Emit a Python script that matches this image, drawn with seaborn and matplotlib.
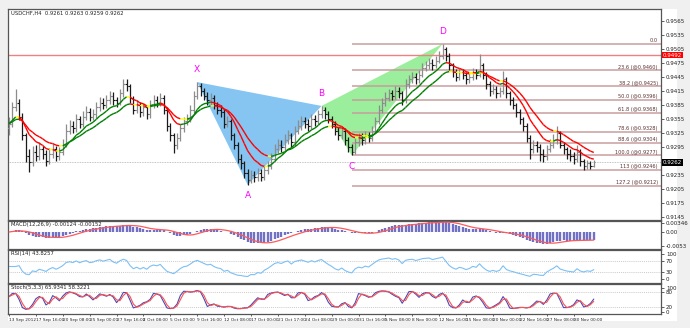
import numpy as np
import pandas as pd
import matplotlib
matplotlib.use("Agg")
import matplotlib.pyplot as plt
import seaborn as sns
from matplotlib.collections import LineCollection
from matplotlib.patches import Polygon, Rectangle
import matplotlib.transforms as mtrans

# ---------------- data (8h-compressed bars) ----------------
first_open = 0.9335
closes = [
    .9345, .9380, .9390, .9360, .9320, .9275, .9262, .9285, .9275, .9290,
    .9280, .9265, .9280, .9290, .9275, .9285, .9300, .9330, .9340, .9335,
    .9355, .9345, .9360, .9370, .9360, .9365, .9380, .9390, .9385, .9395,
    .9405, .9395, .9390, .9410, .9430, .9425, .9400, .9375, .9385, .9370,
    .9380, .9365, .9385, .9395, .9390, .9400, .9375, .9340, .9320, .9300,
    .9315, .9335, .9350, .9355, .9375, .9405, .9425, .9415, .9405, .9395,
    .9400, .9385, .9375, .9370, .9345, .9350, .9320, .9300, .9270, .9260,
    .9240, .9225, .9235, .9230, .9240, .9230, .9245, .9255, .9270, .9290,
    .9300, .9295, .9310, .9320, .9305, .9330, .9340, .9350, .9345, .9340,
    .9355, .9350, .9365, .9375, .9365, .9355, .9345, .9330, .9320, .9330,
    .9310, .9295, .9285, .9305, .9315, .9310, .9320, .9315, .9330, .9350,
    .9375, .9390, .9400, .9410, .9405, .9415, .9410, .9395, .9430, .9440,
    .9445, .9440, .9450, .9465, .9470, .9475, .9470, .9480, .9490, .9505,
    .9490, .9470, .9455, .9445, .9455, .9450, .9440, .9445, .9455, .9450,
    .9470, .9450, .9430, .9415, .9420, .9410, .9415, .9440, .9410, .9395,
    .9385, .9370, .9355, .9340, .9315, .9290, .9300, .9295, .9280, .9275,
    .9290, .9300, .9310, .9325, .9300, .9290, .9280, .9275, .9270, .9285,
    .9265, .9255, .9260, .9255, .9262]
highs = [
    .9360, .9392, .9420, .9398, .9368, .9326, .9290, .9298, .9300, .9305,
    .9298, .9288, .9292, .9302, .9298, .9296, .9312, .9345, .9352, .9350,
    .9366, .9362, .9372, .9382, .9378, .9376, .9392, .9402, .9400, .9406,
    .9415, .9412, .9402, .9420, .9440, .9440, .9430, .9405, .9396, .9392,
    .9390, .9386, .9396, .9406, .9404, .9410, .9406, .9380, .9346, .9326,
    .9324, .9345, .9360, .9366, .9386, .9415, .9434, .9432, .9422, .9412,
    .9410, .9406, .9392, .9384, .9376, .9362, .9356, .9326, .9305, .9280,
    .9266, .9248, .9246, .9244, .9250, .9248, .9256, .9266, .9282, .9302,
    .9312, .9310, .9322, .9332, .9326, .9340, .9352, .9362, .9360, .9354,
    .9366, .9364, .9374, .9383, .9380, .9372, .9362, .9350, .9338, .9340,
    .9336, .9316, .9302, .9314, .9326, .9324, .9330, .9328, .9340, .9360,
    .9386, .9400, .9412, .9420, .9418, .9425, .9424, .9416, .9440, .9450,
    .9456, .9454, .9460, .9474, .9480, .9485, .9484, .9490, .9500, .9516,
    .9510, .9496, .9476, .9462, .9464, .9462, .9456, .9454, .9464, .9462,
    .9494, .9476, .9456, .9436, .9430, .9426, .9424, .9458, .9446, .9416,
    .9402, .9390, .9376, .9360, .9346, .9320, .9310, .9308, .9302, .9290,
    .9300, .9312, .9322, .9340, .9330, .9306, .9296, .9290, .9284, .9300,
    .9290, .9270, .9268, .9266, .9268]
lows = [
    .9320, .9338, .9372, .9352, .9310, .9262, .9242, .9255, .9265, .9268,
    .9270, .9255, .9258, .9272, .9266, .9268, .9278, .9295, .9322, .9325,
    .9328, .9336, .9338, .9352, .9350, .9352, .9358, .9372, .9376, .9378,
    .9388, .9386, .9380, .9384, .9402, .9414, .9390, .9366, .9368, .9360,
    .9362, .9355, .9358, .9378, .9380, .9382, .9366, .9330, .9308, .9282,
    .9290, .9308, .9328, .9342, .9348, .9368, .9398, .9405, .9396, .9386,
    .9386, .9376, .9366, .9360, .9336, .9338, .9310, .9290, .9260, .9248,
    .9228, .9214, .9218, .9220, .9222, .9222, .9224, .9238, .9248, .9264,
    .9282, .9284, .9288, .9302, .9296, .9298, .9322, .9332, .9336, .9330,
    .9334, .9340, .9344, .9358, .9355, .9346, .9336, .9320, .9310, .9312,
    .9300, .9285, .9277, .9280, .9298, .9300, .9302, .9305, .9308, .9324,
    .9344, .9368, .9382, .9394, .9396, .9398, .9400, .9385, .9390, .9422,
    .9432, .9430, .9432, .9444, .9458, .9462, .9460, .9464, .9474, .9484,
    .9480, .9460, .9445, .9436, .9438, .9440, .9430, .9432, .9438, .9440,
    .9445, .9440, .9420, .9405, .9408, .9400, .9402, .9408, .9400, .9386,
    .9376, .9360, .9345, .9330, .9305, .9270, .9282, .9284, .9266, .9262,
    .9268, .9284, .9292, .9302, .9292, .9280, .9270, .9264, .9258, .9262,
    .9255, .9246, .9248, .9248, .9252]

time_labels = ["13 Sep 2012", "17 Sep 16:00", "20 Sep 08:00", "25 Sep 00:00",
               "27 Sep 16:00", "2 Oct 08:00", "5 Oct 00:00", "9 Oct 16:00",
               "12 Oct 08:00", "17 Oct 00:00", "21 Oct 17:00", "24 Oct 08:00",
               "29 Oct 00:00", "31 Oct 16:00", "5 Nov 08:00", "8 Nov 00:00",
               "12 Nov 16:00", "15 Nov 08:00", "20 Nov 00:00", "22 Nov 16:00",
               "27 Nov 08:00", "30 Nov 00:00"]

pattern_names = ["X", "A", "B", "C", "D"]
pattern_bar = [56, 71, 93, 102, 129]
pattern_price = [0.9434, 0.9214, 0.9383, 0.9277, 0.9516]
fib_levels = [0.0, 23.6, 38.2, 50.0, 61.8, 78.6, 88.6, 100.0, 113.0, 127.2]
hline_price = 0.9492
last_price = 0.9262
price_ticks = [0.9565, 0.9535, 0.9505, 0.9475, 0.9445, 0.9415, 0.9385, 0.9355,
               0.9325, 0.9295, 0.9235, 0.9205, 0.9175, 0.9145]
macd_ticks = [0.00346, 0.0, -0.0053]
macd_tick_labels = ["0.00346", "0.00", "-0.0053"]
rsi_ticks = [100, 70, 30, 0]
stoch_ticks = [100, 80, 20, 0]

title_main = "USDCHF,H4  0.9261 0.9263 0.9259 0.9262"
title_macd = "MACD(12,26,9) -0.00124 -0.00152"
title_rsi = "RSI(14) 43.8257"
title_stoch = "Stoch(5,3,3) 65.9341 58.3221"

# ---------------- derived series ----------------
N = len(closes)
x = np.arange(N)
c = pd.Series(closes)
h = pd.Series(highs)
l = pd.Series(lows)
opens = np.r_[first_open, np.array(closes[:-1])]

ma_fast = c.ewm(span=9, adjust=False).mean().values
ma_slow = c.ewm(span=16, adjust=False).mean().values

macd = (c.ewm(span=10, adjust=False).mean() - c.ewm(span=24, adjust=False).mean())
signal = macd.rolling(6, min_periods=1).mean()

delta = c.diff().fillna(0)
up = delta.clip(lower=0).ewm(alpha=1 / 7, adjust=False).mean()
dn = (-delta.clip(upper=0)).ewm(alpha=1 / 7, adjust=False).mean()
rsi = (100 - 100 / (1 + up / dn.replace(0, np.nan))).fillna(50)

ll = l.rolling(3, min_periods=1).min()
hh = h.rolling(3, min_periods=1).max()
k = 100 * (c - ll).rolling(2, min_periods=1).sum() / (hh - ll).rolling(2, min_periods=1).sum()
d = k.rolling(2, min_periods=1).mean()

# ---------------- figure ----------------
sns.set_theme(style="white")
plt.rcParams["font.family"] = ["DejaVu Sans"]
W, H = 690, 328
fig = plt.figure(figsize=(W / 100, H / 100), dpi=100, facecolor="#f0f0f0")
fig.patches.append(Rectangle((8 / W, 1 - 321 / H), (677 - 8) / W, (321 - 9) / H,
                             transform=fig.transFigure, facecolor="white",
                             edgecolor="none", zorder=-10))


def px_axes(top, bottom):
    return fig.add_axes([8 / W, 1 - bottom / H, (661 - 8) / W, (bottom - top) / H])


ax = px_axes(9, 220)
ax_m = px_axes(221, 249)
ax_r = px_axes(250, 283)
ax_s = px_axes(284, 314)
xlim = (-0.3, 194.0)

for a in (ax, ax_m, ax_r, ax_s):
    a.set_xlim(*xlim)
    a.set_facecolor("white")
    for sp in a.spines.values():
        sp.set_color("#555555")
        sp.set_linewidth(0.9)
    a.yaxis.tick_right()
    a.tick_params(axis="y", labelsize=4, length=2, width=0.5, pad=1.5,
                  colors="#222222")
    a.tick_params(axis="x", bottom=False, labelbottom=False)

# ---- main panel ----
ax.set_ylim(0.91386, 0.95907)
ax.set_yticks(price_ticks)
ax.set_yticklabels([f"{t:.4f}" for t in price_ticks])

# harmonic pattern triangles
pts = list(zip(pattern_bar, pattern_price))
ax.add_patch(Polygon(pts[0:3], closed=True, facecolor="#86c5f2", edgecolor="none", zorder=1))
ax.add_patch(Polygon(pts[2:5], closed=True, facecolor="#9bee9b", edgecolor="none", zorder=1))

# fibonacci levels between C and D
C_p, D_p = pattern_price[3], pattern_price[4]
x_end = xlim[1]
for lv in fib_levels:
    p = D_p - lv / 100 * (D_p - C_p)
    ax.hlines(p, pattern_bar[3], x_end, color="#c79e9e", lw=1.1, zorder=2)
    lab = f"{lv:.1f}" if lv == 0 else (f"{lv:g} (@{p:.4f})" if lv == 113 else f"{lv:.1f} (@{p:.4f})")
    ax.text(x_end - 1.0, p + 0.00012, lab, fontsize=3.6, color="#5a3030",
            ha="right", va="bottom", zorder=3)

# horizontal red line and current price line
ax.axhline(hline_price, color="#f08080", lw=1.0, zorder=2)
ax.axhline(last_price, color="#b0b0b0", lw=0.6, ls=(0, (1, 1)), zorder=2)
bt = mtrans.blended_transform_factory(ax.transAxes, ax.transData)
ax.text(1.003, hline_price, f"{hline_price:.4f}", transform=bt, fontsize=4, color="white",
        va="center", ha="left", bbox=dict(boxstyle="square,pad=0.15", fc="#ff0000", ec="none"),
        zorder=6, clip_on=False)
ax.text(1.003, last_price, f"{last_price:.4f}", transform=bt, fontsize=4, color="white",
        va="center", ha="left", bbox=dict(boxstyle="square,pad=0.15", fc="#000000", ec="none"),
        zorder=6, clip_on=False)

# OHLC bars
up_bar = np.array(closes) >= opens
bar_col = np.where(up_bar, "#8c8c8c", "#1a1a1a")
ax.vlines(x, lows, highs, colors=bar_col, lw=0.9, zorder=3)
ax.hlines(opens, x - 0.5, x, colors=bar_col, lw=0.8, zorder=3)
ax.hlines(closes, x, x + 0.5, colors=bar_col, lw=0.8, zorder=3)


def slope_colored(axis, xs, ys, thr=0.00007):
    segs = np.stack([np.column_stack([xs[:-1], ys[:-1]]),
                     np.column_stack([xs[1:], ys[1:]])], axis=1)
    dy = np.diff(ys)
    cols = ["#ffff00" if abs(v) < thr else ("#008000" if v > 0 else "#ff0000") for v in dy]
    axis.add_collection(LineCollection(segs, colors=cols, linewidths=1.0, zorder=4))


slope_colored(ax, x.astype(float), ma_slow)
slope_colored(ax, x.astype(float), ma_fast)

for name, bx, bp in zip(pattern_names, pattern_bar, pattern_price):
    off = 9 if name in ("X", "B", "D") else -8
    ax.annotate(name, (bx, bp), xytext=(0, off), textcoords="offset points",
                ha="center", va="center", fontsize=6.5, color="#ff00ff", zorder=6)

ax.text(0.004, 0.99, title_main, transform=ax.transAxes, fontsize=3.8,
        va="top", ha="left", color="#222222")

# ---- MACD ----
ax_m.set_ylim(-0.00654, 0.00423)
ax_m.vlines(x, 0, macd.values, colors="#7070c4", lw=1.7, zorder=2)
sns.lineplot(x=x, y=signal.values, ax=ax_m, color="#ff5a5a", linewidth=0.9, zorder=3)
ax_m.set_yticks(macd_ticks)
ax_m.set_yticklabels(macd_tick_labels)
ax_m.text(0.004, 0.95, title_macd, transform=ax_m.transAxes, fontsize=3.8,
          va="top", ha="left", color="#222222")

# ---- RSI ----
ax_r.set_ylim(-15, 115)
for lv in (70, 30):
    ax_r.axhline(lv, color="#b8b8b8", lw=0.5, ls=(0, (1.5, 1.5)))
sns.lineplot(x=x, y=rsi.values, ax=ax_r, color="#7cc0f5", linewidth=0.8)
ax_r.set_yticks(rsi_ticks)
ax_r.set_yticklabels([str(t) for t in rsi_ticks])
ax_r.text(0.004, 0.96, title_rsi, transform=ax_r.transAxes, fontsize=3.8,
          va="top", ha="left", color="#222222")

# ---- Stochastic ----
ax_s.set_ylim(-10, 115)
for lv in (80, 20):
    ax_s.axhline(lv, color="#b8b8b8", lw=0.5, ls=(0, (1.5, 1.5)))
sns.lineplot(x=x, y=k.values, ax=ax_s, color="#4a4ab8", linewidth=0.8)
sns.lineplot(x=x, y=d.values, ax=ax_s, color="#ff5050", linewidth=0.8)
ax_s.set_yticks(stoch_ticks)
ax_s.set_yticklabels([str(t) for t in stoch_ticks])
ax_s.text(0.004, 0.97, title_stoch, transform=ax_s.transAxes, fontsize=3.8,
          va="top", ha="left", color="#222222")

for a in (ax, ax_m, ax_r, ax_s):
    a.set_xlabel("")
    a.set_ylabel("")
    a.set_xlim(*xlim)

# time axis
ax_s.tick_params(axis="x", bottom=True, labelbottom=True, labelsize=3.1, length=1.5,
                 width=0.5, pad=1.5, colors="#222222")
ax_s.set_xticks([8 * i for i in range(len(time_labels))])
ax_s.set_xticklabels(time_labels)
for t in ax_s.get_xticklabels():
    t.set_ha("left")

fig.savefig("out.png", dpi=100, facecolor=fig.get_facecolor())
